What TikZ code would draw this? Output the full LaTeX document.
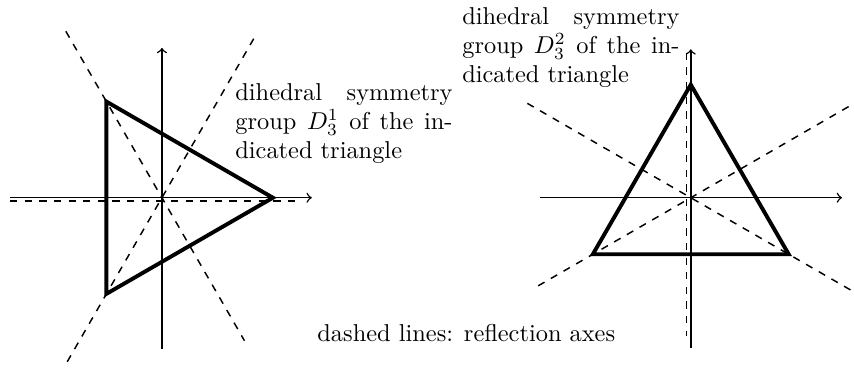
\documentclass[tikz,border=0pt]{standalone}
\usepackage{tikz}

\begin{document}
\begin{tikzpicture}[every node/.style={font=\normalsize}]
  \tikzstyle{axis}=[->, semithick]
  \tikzstyle{mirror}=[dashed, semithick]
  \tikzstyle{tri}=[ultra thick, line join=miter]
  \tikzstyle{caption}=[inner sep=0pt, anchor=north west, align=justify, text width=3.13cm]
  \useasboundingbox (0,0) rectangle (12.31,5.30);
  \begin{scope}[shift={(2.334,2.450)}]
    \coordinate (lw) at (-2.19,0);
    \coordinate (le) at (2.16,0);
    \coordinate (ls) at (0,-2.18);
    \coordinate (ln) at (0,2.16);
    \coordinate (la) at (0:1.6);
    \coordinate (lb) at (120:1.6);
    \coordinate (lc) at (240:1.6);
    \coordinate (lm1) at (-2.19,-0.05);
    \coordinate (lm2) at (1.96,-0.05);
    \coordinate (lm3) at (120:2.77);
    \coordinate (lm4) at (300:2.38);
    \coordinate (lm5) at (240:2.73);
    \coordinate (lm6) at (60:2.74);
    \draw[axis] (lw) -- (le);
    \draw[axis] (ls) -- (ln);
    \draw[mirror] (lm1) -- (lm2);
    \draw[mirror] (lm3) -- (lm4);
    \draw[mirror] (lm5) -- (lm6);
    \draw[tri] (la) -- (lb) -- (lc) -- cycle;
  \end{scope}
  \begin{scope}[shift={(9.957,2.450)}]
    \coordinate (rw) at (-2.18,0);
    \coordinate (re) at (2.18,0);
    \coordinate (rs) at (0,-2.16);
    \coordinate (rn) at (0,2.14);
    \coordinate (ra) at (90:1.63);
    \coordinate (rb) at (210:1.63);
    \coordinate (rc) at (330:1.63);
    \coordinate (rm1) at (-0.06,2.09);
    \coordinate (rm2) at (-0.06,-2.0);
    \coordinate (rm3) at (150:2.72);
    \coordinate (rm4) at (330:2.72);
    \coordinate (rm5) at (210:2.54);
    \coordinate (rm6) at (30:2.75);
    \draw[axis] (rw) -- (re);
    \draw[axis] (rs) -- (rn);
    \draw[mirror] (rm1) -- (rm2);
    \draw[mirror] (rm3) -- (rm4);
    \draw[mirror] (rm5) -- (rm6);
    \draw[tri] (ra) -- (rb) -- (rc) -- cycle;
  \end{scope}
  \node[caption] (leftcap) at (3.386,4.106)
    {dihedral symmetry group $D_3^1$ of the indicated triangle};
  \node[caption] (rightcap) at (6.657,5.20)
    {dihedral symmetry group $D_3^2$ of the indicated triangle};
  \node[inner sep=0pt, anchor=base west] (legend) at (4.568,0.375)
    {dashed lines: reflection axes};
\end{tikzpicture}
\end{document}
